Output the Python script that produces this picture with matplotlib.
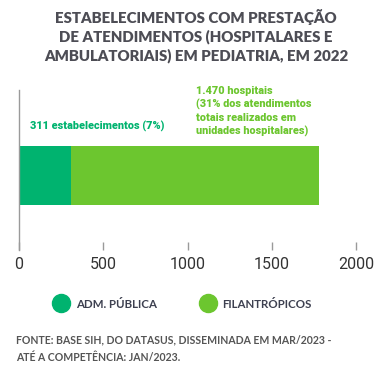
import matplotlib
matplotlib.use("Agg")
import matplotlib.pyplot as plt
from matplotlib.lines import Line2D

categories = ["ADM. PÚBLICA", "FILANTRÓPICOS"]
values = [311, 1470]
colors = ["#00b36f", "#6cc62f"]
xticks = [0, 500, 1000, 1500, 2000]

fig = plt.figure(figsize=(3.92, 3.72), dpi=100)
ax = fig.add_axes([19/392, 1-250/372, (356-19)/392, (250-90)/372])

left = 0
for cat, v, c in zip(categories, values, colors):
    ax.barh(0, v, left=left, height=0.367, color=c, label=cat)
    left += v

ax.set_xlim(0, 2000)
ax.set_ylim(-0.47, 0.54)
ax.set_yticks([])
ax.set_xticks(xticks)
ax.set_xticklabels([str(t) for t in xticks], fontsize=11.5, color="#333333", family="Roboto")
for s in ["top", "right", "bottom"]:
    ax.spines[s].set_visible(False)
ax.spines["left"].set_color("#9a9a9a")
ax.spines["left"].set_linewidth(1.0)
ax.tick_params(axis="x", direction="in", length=6, width=1, color="#9a9a9a", pad=5)

ax.text(11/337*2000, 0.31, "311 estabelecimentos (7%)", color=colors[0], fontsize=7.8,
        fontweight="heavy", family="Roboto", va="center", ha="left")
ax.text(177/337*2000, 0.565, "1.470 hospitais\n(31% dos atendimentos\ntotais realizados em\nunidades hospitalares)",
        color=colors[1], fontsize=7.8, fontweight="heavy", family="Roboto", va="top", ha="left",
        linespacing=1.34)

fig.text(0.5, 1-9/372, "ESTABELECIMENTOS COM PRESTAÇÃO\nDE ATENDIMENTOS (HOSPITALARES E\nAMBULATORIAIS) EM PEDIATRIA, EM 2022",
         ha="center", va="top", fontsize=10.8, fontweight="heavy", family="Lato", color="#4d4d55",
         linespacing=1.38)

handles = [Line2D([], [], marker="o", linestyle="", markersize=13, color=c) for c in colors]
fig.legend(handles, categories, loc="center", bbox_to_anchor=(0.468, 1-304/372), ncol=2,
           frameon=False, prop={"family": "Lato", "size": 8.3, "weight": "bold"},
           labelcolor="#3d4050", handlelength=1.0, columnspacing=3.9, handletextpad=0.8)

fig.text(16/392, 1-349/372, "FONTE: BASE SIH, DO DATASUS, DISSEMINADA EM MAR/2023 -\nATÉ A COMPETÊNCIA: JAN/2023.",
         ha="left", va="center", fontsize=7.6, family="Lato", color="#555555", linespacing=1.75,
         fontweight="bold")

fig.savefig("out.png", dpi=100)
